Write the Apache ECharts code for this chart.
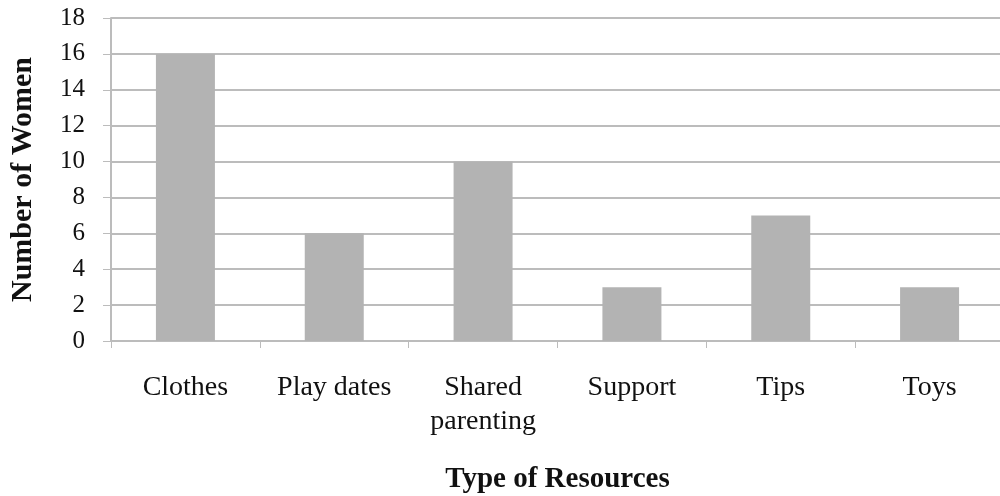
<!DOCTYPE html>
<html>
<head>
<meta charset="utf-8">
<script src="https://cdn.jsdelivr.net/npm/echarts@6/dist/echarts.min.js"></script>
<style>
html, body { margin: 0; padding: 0; background: #fff; }
#chart { width: 1000px; height: 496px; }
</style>
</head>
<body>
<div id="chart"></div>
<script>
// categories and counts
var categories = ['Clothes', 'Play dates', 'Shared\nparenting', 'Support', 'Tips', 'Toys'];
var counts = [16, 6, 10, 3, 7, 3];
var yTicks = [0, 2, 4, 6, 8, 10, 12, 14, 16, 18];

var myChart = echarts.init(document.getElementById('chart'));

var font = '"Liberation Serif", "DejaVu Serif", serif';

var option = {
	animation: false,
	grid: {
		left: 111,
		top: 18,
		width: 893,
		height: 323,
		outerBoundsMode: 'none',
		containLabel: false
	},
	xAxis: {
		type: 'category',
		data: categories,
		name: 'Type of Resources',
		nameLocation: 'middle',
		nameGap: 124,
		nameTextStyle: {
			fontFamily: font,
			fontSize: 29,
			fontWeight: 'bold',
			color: '#111'
		},
		axisLine: { lineStyle: { color: '#bcbcbc', width: 2 } },
		axisTick: { show: true, length: 7, lineStyle: { color: '#bcbcbc', width: 1 } },
		axisLabel: {
			fontFamily: font,
			fontSize: 28,
			color: '#111',
			margin: 30,
			lineHeight: 34
		}
	},
	yAxis: {
		type: 'value',
		min: yTicks[0],
		max: yTicks[yTicks.length - 1],
		interval: 2,
		name: 'Number of Women',
		nameLocation: 'middle',
		nameGap: 73,
		nameTextStyle: {
			fontFamily: font,
			fontSize: 30,
			fontWeight: 'bold',
			color: '#111'
		},
		axisLine: { show: true, lineStyle: { color: '#bcbcbc', width: 2 } },
		axisTick: { show: true, length: 8, inside: false, lineStyle: { color: '#bcbcbc' } },
		axisLabel: {
			fontFamily: font,
			fontSize: 25,
			color: '#111',
			margin: 26
		},
		splitLine: { lineStyle: { color: '#bcbcbc', width: 2 } }
	},
	series: [{
		type: 'bar',
		data: counts,
		barWidth: 59,
		itemStyle: { color: '#b3b3b3' }
	}]
};

myChart.setOption(option);
</script>
</body>
</html>
